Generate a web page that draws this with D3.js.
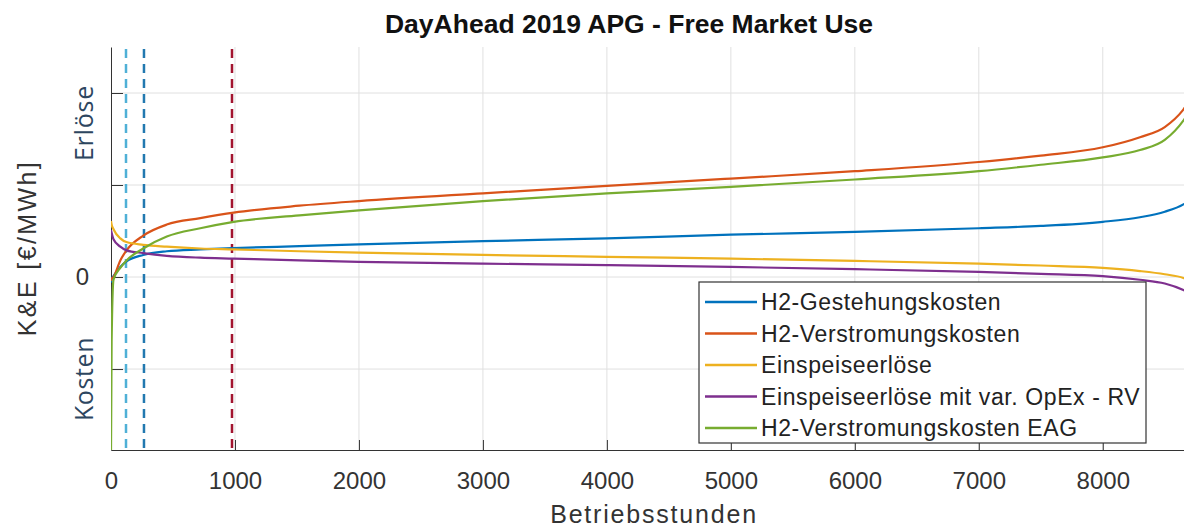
<!DOCTYPE html>
<html>
<head>
<meta charset="utf-8">
<script src="https://cdn.jsdelivr.net/npm/d3@7"></script>
<style>
  body { margin: 0; background: white; }
  svg { display: block; font-family: "Liberation Sans", Arial, sans-serif; }
</style>
</head>
<body>
<svg id="chart"></svg>
<script>
// Betriebsstunden (sorted duration curve)
var hours = [0, 5, 20, 75, 125, 260, 450, 720, 990, 1520, 2000, 3000, 4000, 5000, 6000, 7000, 7500, 8000, 8300, 8500, 8650, 8760];

var gestehung   = [-6, -2, 1, 11, 17, 24, 28, 30, 31.5, 33.5, 35.5, 39, 42, 46, 49, 53, 55.5, 60, 65, 71, 79, 90];
var verstromung = [-4, -2, 0, 18, 29, 45, 57, 64, 70, 77.5, 82.5, 91, 99, 107, 115, 125, 132, 141, 152, 163, 182, 205];
var einspeise   = [61, 57, 52, 42, 38, 35, 33, 31, 30, 28, 26.5, 24, 22, 20, 17.5, 14.5, 12.5, 10, 6.5, 3, -1, -8];
var einspeiseRV = [51, 48, 41, 33, 29, 26, 23, 21, 20, 18, 16.5, 14.5, 13, 11, 8.5, 5.5, 3.5, 1, -3, -7, -14, -22];
var verstromEAG = [-190, -70, -3, 10, 18, 31, 44, 53, 60, 67, 72.5, 82.5, 91, 98, 106, 115, 122, 130, 138, 149, 170, 195];

var seriesNames = ["H2-Gestehungskosten", "H2-Verstromungskosten", "Einspeiseerlöse",
                   "Einspeiseerlöse mit var. OpEx - RV", "H2-Verstromungskosten EAG"];
var seriesColors = ["#0072BD", "#D95319", "#EDB120", "#7E2F8E", "#77AC30"];

var xTicks = [0, 1000, 2000, 3000, 4000, 5000, 6000, 7000, 8000];
var yTicks = [-100, 0, 100, 200];

// markers (dashed vertical lines)
var markerHours = [121, 266, 976];
var markerColors = ["#4fb0d6", "#2279b0", "#a2142f"];

var W = 1184, H = 528;
var margin = {top: 47, left: 111, bottom: 78};
var plotRight = 1197; // axis runs past the window edge (clipped like the original)

var svg = d3.select("#chart").attr("width", W).attr("height", H);

var x = d3.scaleLinear().domain([0, 8760]).range([margin.left, plotRight]);
var y = d3.scaleLinear().domain([-188, 250]).range([H - margin.bottom, margin.top]);

svg.append("clipPath").attr("id", "plotclip")
  .append("rect")
  .attr("x", margin.left).attr("y", margin.top)
  .attr("width", plotRight - margin.left).attr("height", y(-188) - margin.top);

// grid
var grid = svg.append("g");
grid.selectAll("line.gx").data(xTicks.slice(1)).enter().append("line")
  .attr("x1", d => x(d)).attr("x2", d => x(d))
  .attr("y1", margin.top).attr("y2", y(-188))
  .attr("stroke", "#e0e0e0").attr("stroke-width", 1);
grid.selectAll("line.gy").data(yTicks).enter().append("line")
  .attr("x1", margin.left).attr("x2", plotRight)
  .attr("y1", d => y(d)).attr("y2", d => y(d))
  .attr("stroke", "#e0e0e0").attr("stroke-width", 1);

// axes (MATLAB style: ticks pointing inward)
var xAxis = svg.append("g")
  .attr("transform", "translate(0," + y(-188) + ")")
  .call(d3.axisBottom(x).tickValues(xTicks).tickSizeInner(-10).tickSizeOuter(0).tickPadding(22).tickFormat(d3.format("d")));
xAxis.select(".domain").attr("stroke", "#333");
xAxis.selectAll(".tick line").attr("stroke", "#333");
xAxis.selectAll(".tick text").attr("font-size", 24).attr("fill", "#333")
  .attr("font-family", "Liberation Sans, Arial, sans-serif");

var yAxis = svg.append("g")
  .attr("transform", "translate(" + margin.left + ",0)")
  .call(d3.axisLeft(y).tickValues(yTicks).tickSizeInner(-12).tickSizeOuter(0).tickPadding(22)
        .tickFormat(d => d === 0 ? "0" : ""));
yAxis.select(".domain").attr("stroke", "#333");
yAxis.selectAll(".tick line").attr("stroke", "#333");
yAxis.selectAll(".tick text").attr("font-size", 24).attr("fill", "#333")
  .attr("font-family", "Liberation Sans, Arial, sans-serif");

// dashed marker lines
svg.append("g").selectAll("line").data(markerHours).enter().append("line")
  .attr("x1", d => x(d)).attr("x2", d => x(d))
  .attr("y1", margin.top + 2).attr("y2", y(-188))
  .attr("stroke", (d, i) => markerColors[i])
  .attr("stroke-width", 2.5)
  .attr("stroke-dasharray", "9,6");

// curves
var allSeries = [gestehung, verstromung, einspeise, einspeiseRV, verstromEAG];
var line = d3.line()
  .x((d, i) => x(hours[i]))
  .y(d => y(d))
  .curve(d3.curveMonotoneX);

svg.append("g").attr("clip-path", "url(#plotclip)")
  .selectAll("path").data(allSeries).enter().append("path")
  .attr("d", d => line(d))
  .attr("fill", "none")
  .attr("stroke", (d, i) => seriesColors[i])
  .attr("stroke-width", 2.2);

// legend
var lg = svg.append("g").attr("transform", "translate(699,282)");
lg.append("rect").attr("width", 447).attr("height", 161)
  .attr("fill", "white").attr("stroke", "#333").attr("stroke-width", 1.2);
seriesNames.forEach(function(name, i) {
  var ry = 20 + i * 31.5;
  lg.append("line").attr("x1", 6).attr("x2", 58).attr("y1", ry).attr("y2", ry)
    .attr("stroke", seriesColors[i]).attr("stroke-width", 2.5);
  lg.append("text").attr("x", 62).attr("y", ry).attr("dy", "0.35em")
    .attr("font-size", 23).attr("letter-spacing", 0.6).attr("fill", "#222").text(name);
});

// title
svg.append("text").attr("x", 629).attr("y", 33).attr("text-anchor", "middle")
  .attr("font-size", 26.5).attr("font-weight", "bold").attr("fill", "#111")
  .text("DayAhead 2019 APG - Free Market Use");

// axis labels
svg.append("text").attr("x", 654).attr("y", 523).attr("text-anchor", "middle")
  .attr("font-size", 25).attr("letter-spacing", 1.8).attr("fill", "#333")
  .text("Betriebsstunden");

svg.append("text").attr("transform", "translate(36,248) rotate(-90)")
  .attr("text-anchor", "middle").attr("font-size", 25).attr("letter-spacing", 2.4).attr("fill", "#333")
  .text("K&E [€/MWh]");

svg.append("text").attr("transform", "translate(93,123) rotate(-90)")
  .attr("text-anchor", "middle").attr("font-size", 25).attr("letter-spacing", 0.8)
  .attr("font-family", "Open Sans, sans-serif").attr("fill", "#2d4660")
  .text("Erlöse");

svg.append("text").attr("transform", "translate(93,379) rotate(-90)")
  .attr("text-anchor", "middle").attr("font-size", 25).attr("letter-spacing", 0.6)
  .attr("font-family", "Open Sans, sans-serif").attr("fill", "#2d4660")
  .text("Kosten");
</script>
</body>
</html>
